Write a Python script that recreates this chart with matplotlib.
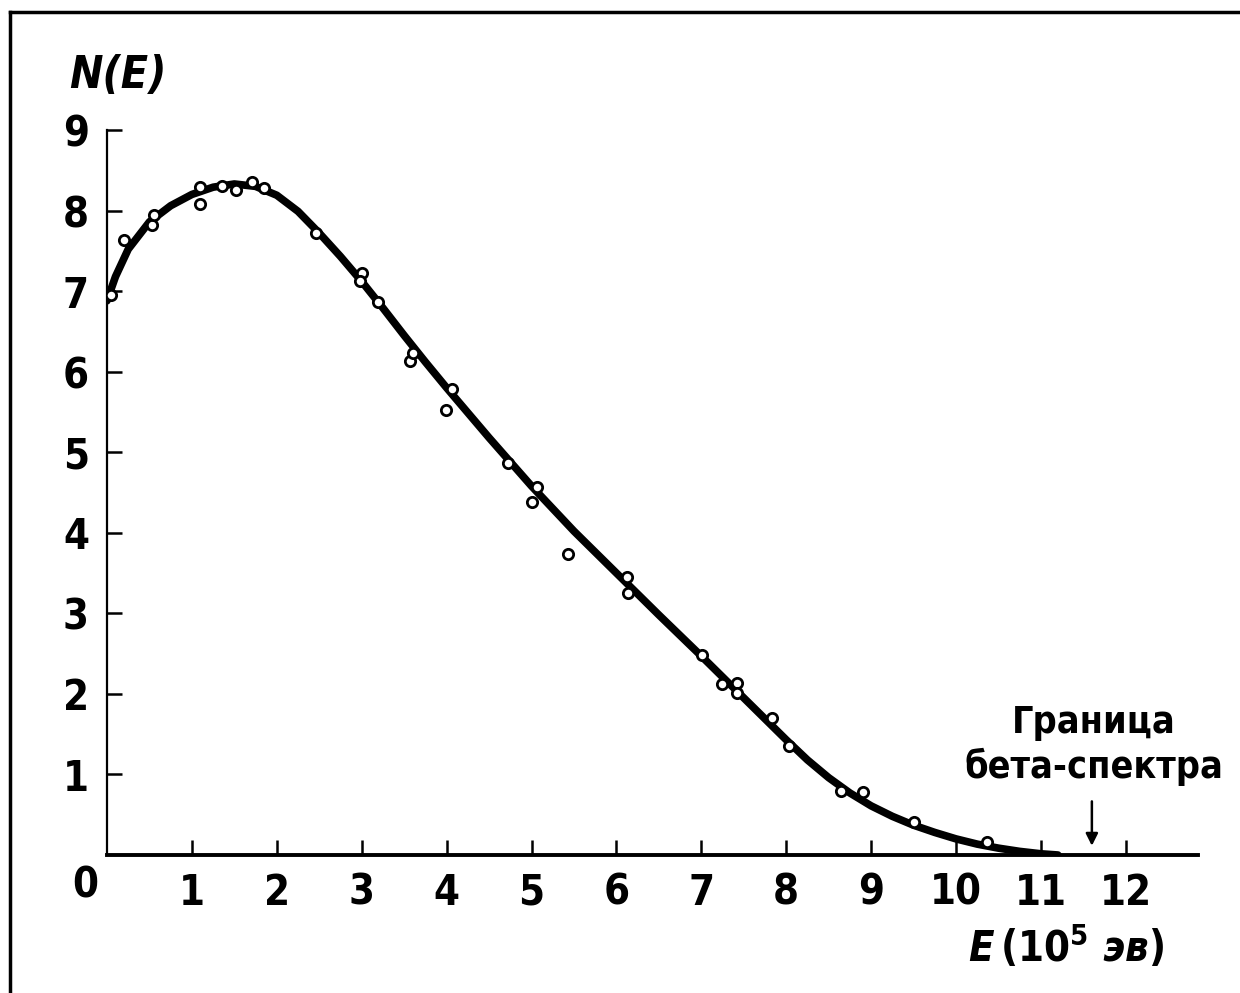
import matplotlib.pyplot as plt
from matplotlib.lines import Line2D

# сглаженная кривая бета-спектра
curve_E = [0, 0.1, 0.25, 0.5, 0.75, 1.0, 1.25, 1.5, 1.75, 2.0, 2.25, 2.5, 2.75,
           3.0, 3.25, 3.5, 3.75, 4.0, 4.5, 5.0, 5.5, 6.0, 6.5, 7.0, 7.5, 8.0,
           8.25, 8.5, 8.75, 9.0, 9.25, 9.5, 9.75, 10.0, 10.25, 10.5, 10.75, 11.0, 11.2]
curve_N = [6.88, 7.18, 7.52, 7.86, 8.06, 8.2, 8.29, 8.33, 8.3, 8.19, 7.99, 7.72, 7.43,
           7.12, 6.79, 6.45, 6.12, 5.8, 5.18, 4.58, 4.02, 3.5, 2.98, 2.47, 1.95, 1.43,
           1.18, 0.96, 0.77, 0.61, 0.48, 0.37, 0.28, 0.2, 0.135, 0.085, 0.045, 0.015, 0.0]

# экспериментальные точки
pts_E = [0.05, 0.2, 0.53, 0.55, 1.1, 1.1, 1.35, 1.52, 1.71, 1.85, 2.46, 3.0, 2.98,
         3.19, 3.57, 3.6, 4.06, 3.99, 4.72, 5.06, 5.0, 5.43, 6.12, 6.14, 7.01, 7.24,
         7.42, 7.42, 7.83, 8.03, 8.65, 8.9, 9.5, 10.37]
pts_N = [6.95, 7.63, 7.82, 7.94, 8.08, 8.29, 8.3, 8.26, 8.35, 8.28, 7.72, 7.23, 7.13,
         6.86, 6.13, 6.23, 5.78, 5.52, 4.86, 4.57, 4.38, 3.74, 3.45, 3.25, 2.48, 2.12,
         2.13, 2.01, 1.7, 1.35, 0.8, 0.78, 0.41, 0.16]

x_ticks = [1, 2, 3, 4, 5, 6, 7, 8, 9, 10, 11, 12]
y_ticks = [1, 2, 3, 4, 5, 6, 7, 8, 9]
E_limit = 11.6

plt.rcParams['font.family'] = ['DejaVu Sans']
plt.rcParams['font.stretch'] = 'condensed'
plt.rcParams['font.weight'] = 'bold'
plt.rcParams['mathtext.default'] = 'regular'

fig = plt.figure(figsize=(12.4, 9.93), dpi=100)
ax = fig.add_axes([107 / 1240, 1 - 855 / 993, (1198 - 107) / 1240, (855 - 130) / 993])

ax.plot(curve_E, curve_N, color='black', linewidth=5.5, solid_capstyle='round',
        solid_joinstyle='round', zorder=2)
ax.scatter(pts_E, pts_N, s=55, facecolor='white', edgecolor='black', linewidth=2, zorder=3)

ax.set_xlim(0, 12.85)
ax.set_ylim(0, 9)
ax.spines['top'].set_visible(False)
ax.spines['right'].set_visible(False)
ax.spines['bottom'].set_linewidth(2.8)
ax.spines['left'].set_linewidth(1.6)

ax.set_xticks(x_ticks)
ax.set_xticklabels([str(v) for v in x_ticks])
ax.set_yticks(y_ticks)
ax.set_yticklabels([str(v) for v in y_ticks])
ax.tick_params(axis='both', direction='in', length=11, width=1.8, labelsize=30)
ax.tick_params(axis='x', pad=12)
ax.tick_params(axis='y', pad=13)

# общий ноль
ax.text(-0.26, -0.38, '0', fontsize=30, ha='center', va='center')

ax.text(-0.45, 9.68, 'N(E)', fontsize=32, style='italic', ha='left', va='center',
        clip_on=False)
ax.text(11.3, -1.15, r'$\it{E}\,$(10$^5$ $\it{эв}$)', fontsize=30, ha='center', va='center')
ax.text(11.62, 1.36, 'Граница\nбета-спектра', fontsize=27, ha='center', va='center',
        linespacing=1.25)
ax.annotate('', xy=(E_limit, 0.08), xytext=(E_limit, 0.7),
            arrowprops=dict(arrowstyle='-|>', color='black', lw=1.8, mutation_scale=18))

# рамка рисунка
fig.add_artist(Line2D([10 / 1240, 10 / 1240], [1 - 12 / 993, 0], color='black', lw=2.5))
fig.add_artist(Line2D([10 / 1240, 1], [1 - 12 / 993, 1 - 12 / 993], color='black', lw=2.5))

fig.savefig('out.png', dpi=100)
